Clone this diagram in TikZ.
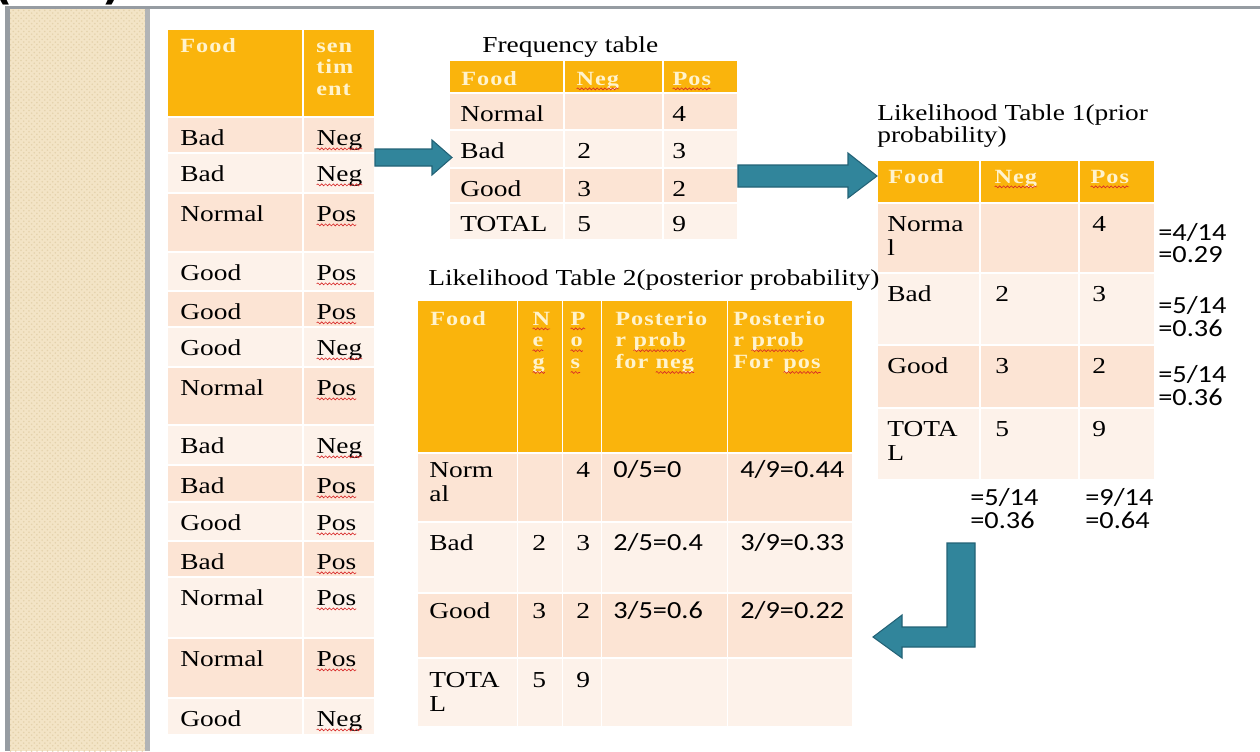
\documentclass[tikz,border=0pt]{standalone}
\usepackage{fontspec}
\setmainfont{Liberation Serif}[FakeStretch=1.2]
\newfontfamily\headfont{Liberation Serif}[FakeStretch=1.2,LetterSpace=5]
\newfontfamily\calcfont{Carlito}[FakeStretch=1.15]
\newfontfamily\capfont{DejaVu Sans}
\usepackage{xcolor}
\usepackage{tikz}
\usetikzlibrary{patterns,decorations.pathmorphing}

\definecolor{headorange}{RGB}{250,180,12}
\definecolor{headcream}{RGB}{255,243,205}
\definecolor{rowdark}{RGB}{252,228,212}
\definecolor{rowlight}{RGB}{253,242,234}
\definecolor{arrowteal}{RGB}{49,133,155}
\definecolor{arrowedge}{RGB}{35,98,118}
\definecolor{panelbeige}{RGB}{243,228,198}
\definecolor{paneldot}{RGB}{228,210,172}
\definecolor{framegray}{RGB}{150,156,162}
\definecolor{edgegray}{RGB}{178,180,182}
\definecolor{spellred}{RGB}{215,40,40}

% red wavy underline of the spell checker
\newcommand{\spell}[1]{\tikz[baseline=(sw.base)]{\node[inner sep=0pt, outer sep=0pt, anchor=base west] (sw) {#1};
  \draw[spellred, line width=0.35pt, decorate, decoration={snake, amplitude=0.55pt, segment length=2.2pt}]
    ([yshift=-2.2pt]sw.base west) -- ([yshift=-2.2pt]sw.base east);}}
% lines of a cell, baseline on the first one
\newcommand{\stack}[1]{\begin{tabular}[t]{@{}l@{}}#1\end{tabular}}

\tikzset{
  headcell/.style={fill=headorange, draw=white, line width=0.8pt},
  darkcell/.style={fill=rowdark, draw=white, line width=0.8pt},
  lightcell/.style={fill=rowlight, draw=white, line width=0.8pt},
  celltext/.style={anchor=base west, inner sep=0pt, font=\fontsize{13}{14}\selectfont},
  headtext/.style={anchor=base west, inner sep=0pt, text=headcream, font=\headfont\bfseries\fontsize{11.5}{12.4}\selectfont},
  calctext/.style={anchor=base west, inner sep=0pt, font=\calcfont\fontsize{14}{13}\selectfont},
  blockarrow/.style={fill=arrowteal, draw=arrowedge, line width=0.6pt, line join=miter},
}

\begin{document}
\begin{tikzpicture}[x=0.02cm, y=-0.02cm]
            \useasboundingbox (0,0) rectangle (1260,751);

            % Left panel and frame
            \fill[panelbeige] (10,9) rectangle (146,751);
            \fill[pattern=crosshatch dots, pattern color=paneldot] (10,9) rectangle (146,751);
            \draw[framegray, line width=1.7pt] (5,7.5) -- (1260,7.5);
            \draw[framegray, line width=2.8pt] (7.5,6) -- (7.5,751);
            \draw[edgegray, line width=2.5pt] (147.5,9) -- (147.5,751);

            % Cut-off text above the frame
            \begin{scope}
              \clip (0,0) rectangle (200,6);
              \node[font=\capfont\bfseries\fontsize{24}{24}\selectfont, anchor=south, inner sep=0pt] (parenOpen) at (3,5.5) {(};
              \node[font=\capfont\bfseries\fontsize{24}{24}\selectfont, anchor=south, inner sep=0pt] (parenClose) at (112,5.5) {)};
            \end{scope}

            % Data table
            \path[headcell] (167,29) rectangle (303,117) (303,29) rectangle (375,117);
            \node[headtext] (dataFood) at (180,52) {Food};
            \node[headtext] (dataSent) at (316,52) {\stack{sen\\tim\\ent}};
            \foreach \ya/\yb/\food/\sent/\tone [count=\i] in {
                117/153/Bad/Neg/darkcell, 153/193/Bad/Neg/lightcell,
                193/252/Normal/Pos/darkcell, 252/291/Good/Pos/lightcell,
                291/327/Good/Pos/darkcell, 327/367/Good/Neg/lightcell,
                367/425/Normal/Pos/darkcell, 425/465/Bad/Neg/lightcell,
                465/502/Bad/Pos/darkcell, 502/541/Good/Pos/lightcell,
                541/577/Bad/Pos/darkcell, 577/638/Normal/Pos/lightcell,
                638/698/Normal/Pos/darkcell, 698/735/Good/Neg/lightcell}{
              \path[\tone] (167,\ya) rectangle (303,\yb) (303,\ya) rectangle (375,\yb);
              \node[celltext] (dataFood\i) at (180,\ya+28) {\food};
              \node[celltext] (dataSent\i) at (316,\ya+28) {\spell{\sent}};
            }

            % Frequency table
            \node[celltext] (freqTitle) at (482,52) {Frequency table};
            \path[headcell] (449,60) rectangle (564,93) (564,60) rectangle (663,93) (663,60) rectangle (738,93);
            \node[headtext] (freqFood) at (461,85) {Food};
            \node[headtext] (freqNeg) at (576,85) {\spell{Neg}};
            \node[headtext] (freqPos) at (672,85) {\spell{Pos}};
            \foreach \ya/\yb/\food/\neg/\pos/\tone [count=\i] in {
                93/130/Normal//4/darkcell, 130/168/Bad/2/3/lightcell,
                168/203/Good/3/2/darkcell, 203/240/TOTAL/5/9/lightcell}{
              \path[\tone] (449,\ya) rectangle (564,\yb) (564,\ya) rectangle (663,\yb) (663,\ya) rectangle (738,\yb);
              \node[celltext] (freqFood\i) at (460,\ya+28) {\food};
              \node[celltext] (freqNeg\i) at (577,\ya+28) {\neg};
              \node[celltext] (freqPos\i) at (672,\ya+28) {\pos};
            }

            % Likelihood table 1
            \node[celltext, font=\fontsize{13}{13}\selectfont] (priorTitle) at (877,120) {\stack{Likelihood Table 1(prior\\probability)}};
            \path[headcell] (877,160) rectangle (980,203) (980,160) rectangle (1079,203) (1079,160) rectangle (1155,203);
            \node[headtext] (priorFood) at (888,183) {Food};
            \node[headtext] (priorNeg) at (994,183) {\spell{Neg}};
            \node[headtext] (priorPos) at (1090,183) {\spell{Pos}};
            \foreach \ya/\yb/\food/\neg/\pos/\tone [count=\i] in {
                203/273/Norma\\l//4/darkcell, 273/345/Bad/2/3/lightcell,
                345/408/Good/3/2/darkcell, 408/480/TOTA\\L/5/9/lightcell}{
              \path[\tone] (877,\ya) rectangle (980,\yb) (980,\ya) rectangle (1079,\yb) (1079,\ya) rectangle (1155,\yb);
              \node[celltext] (priorFood\i) at (887,\ya+28) {\stack{\food}};
              \node[celltext] (priorNeg\i) at (995,\ya+28) {\neg};
              \node[celltext] (priorPos\i) at (1092,\ya+28) {\pos};
            }
            \node[calctext] (priorNormal) at (1158,240) {\stack{=4/14\\=0.29}};
            \node[calctext] (priorBad) at (1158,313) {\stack{=5/14\\=0.36}};
            \node[calctext] (priorGood) at (1158,382) {\stack{=5/14\\=0.36}};
            \node[calctext] (priorNegSum) at (970,505) {\stack{=5/14\\=0.36}};
            \node[calctext] (priorPosSum) at (1085,505) {\stack{=9/14\\=0.64}};

            % Likelihood table 2
            \node[celltext] (postTitle) at (428,285) {Likelihood Table 2(posterior probability)};
            \path[headcell] (417,300) rectangle (517.5,453) (517.5,300) rectangle (562.5,453) (562.5,300) rectangle (601.5,453)
                (601.5,300) rectangle (727.5,453) (727.5,300) rectangle (853,453);
            \node[headtext] (postFood) at (430,325) {Food};
            \node[headtext] (postNeg) at (532,325) {\stack{\spell{N}\\\spell{e}\\\spell{g}}};
            \node[headtext] (postPos) at (570,325) {\stack{\spell{P}\\\spell{o}\\\spell{s}}};
            \node[headtext] (postProbNeg) at (615,325) {\stack{Posterio\\r \spell{prob}\\for \spell{neg}}};
            \node[headtext] (postProbPos) at (733,325) {\stack{Posterio\\r \spell{prob}\\For\enspace\spell{pos}}};
            \foreach \ya/\yb/\yt/\food/\neg/\pos/\pneg/\ppos/\tone [count=\i] in {
                453/522/477/Norm\\al//4/{0/5=0}/{4/9=0.44}/darkcell,
                522/593/550/Bad/2/3/{2/5=0.4}/{3/9=0.33}/lightcell,
                593/658/618/Good/3/2/{3/5=0.6}/{2/9=0.22}/darkcell,
                658/727/687/TOTA\\L/5/9///lightcell}{
              \path[\tone] (417,\ya) rectangle (517.5,\yb) (517.5,\ya) rectangle (562.5,\yb) (562.5,\ya) rectangle (601.5,\yb)
                  (601.5,\ya) rectangle (727.5,\yb) (727.5,\ya) rectangle (853,\yb);
              \node[celltext] (postFood\i) at (429,\yt) {\stack{\food}};
              \node[celltext] (postNeg\i) at (532,\yt) {\neg};
              \node[celltext] (postPos\i) at (576,\yt) {\pos};
              \node[calctext] (postProbNeg\i) at (613,\yt) {\pneg};
              \node[calctext] (postProbPos\i) at (740,\yt) {\ppos};
            }

            % Arrows between the tables
            \draw[blockarrow] (375,149) -- (432,149) -- (432,140) -- (452,157.5) -- (432,175) -- (432,166) -- (375,166) -- cycle;
            \draw[blockarrow] (738,165) -- (848,165) -- (848,153) -- (877,176) -- (848,198) -- (848,187) -- (738,187) -- cycle;
            \draw[blockarrow] (947,543) -- (975,543) -- (975,647) -- (902,647) -- (902,658) -- (873,637)
                -- (902,615) -- (902,627) -- (947,627) -- cycle;
        \end{tikzpicture}
\end{document}
